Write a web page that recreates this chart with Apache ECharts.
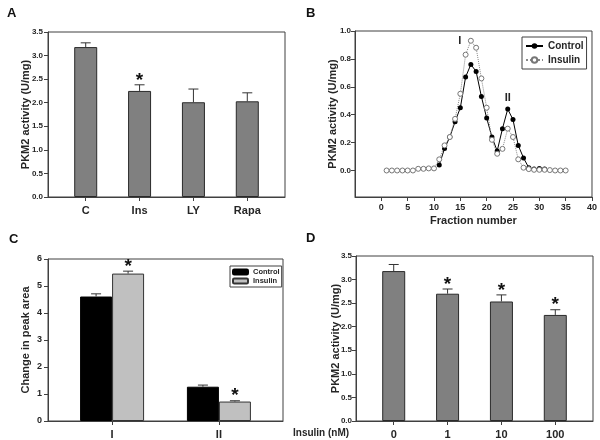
<!DOCTYPE html>
<html>
<head>
<meta charset="utf-8">
<script src="https://cdn.jsdelivr.net/npm/echarts@6/dist/echarts.min.js"></script>
<style>
  html, body { margin: 0; padding: 0; background: #fff; }
  #chart { width: 600px; height: 440px; }
</style>
</head>
<body>
<div id="chart"></div>
<script>
// Panel A
const aCats = ['C', 'Ins', 'LY', 'Rapa'];
const aMeans = [3.18, 2.25, 2.01, 2.03];
const aErrs = [0.09, 0.13, 0.28, 0.18];
const aStars = [false, true, false, false];

// Panel B
const bFractions = [1, 2, 3, 4, 5, 6, 7, 8, 9, 10, 11, 12, 13, 14, 15, 16, 17, 18, 19, 20,
  21, 22, 23, 24, 25, 26, 27, 28, 29, 30, 31, 32, 33, 34, 35];
const bInsulin = [0, 0, 0, 0, 0, 0, 0.012, 0.012, 0.015, 0.015, 0.08, 0.18, 0.24, 0.37, 0.55,
  0.83, 0.93, 0.88, 0.66, 0.45, 0.22, 0.12, 0.155, 0.30, 0.24, 0.08, 0.02, 0.01, 0.005, 0.005,
  0.005, 0.003, 0, 0, 0];
const bControlFractions = [11, 12, 13, 14, 15, 16, 17, 18, 19, 20, 21, 22, 23, 24, 25, 26, 27,
  28, 29, 30, 31];
const bControl = [0.04, 0.157, 0.24, 0.35, 0.45, 0.67, 0.76, 0.71, 0.53, 0.376, 0.24, 0.14, 0.30,
  0.44, 0.365, 0.18, 0.09, 0.02, 0.01, 0.015, 0.01];
const bXTicks = [0, 5, 10, 15, 20, 25, 30, 35, 40];
const bYTicks = [0, 0.2, 0.4, 0.6, 0.8, 1.0];

// Panel C
const cCats = ['I', 'II'];
const cControl = [4.61, 1.27];
const cControlErr = [0.1, 0.06];
const cInsulin = [5.46, 0.72];
const cInsulinErr = [0.09, 0.03];
const cInsulinStars = [true, true];

// Panel D
const dCats = ['0', '1', '10', '100'];
const dMeans = [3.18, 2.70, 2.535, 2.25];
const dErrs = [0.14, 0.10, 0.14, 0.11];
const dStars = [false, true, true, true];

const FONT = 'Liberation Sans, Arial, sans-serif';
const AXIS = '#404040';
const TEXT = '#262626';

function pairs(xs, ys) { return ys.map((y, i) => [xs[i], y]); }
function idx(arr) { return arr.map((_, i) => i); }

function errSeries(xAxisIndex, yAxisIndex, xs, means, errs, stars, offset) {
  return {
    type: 'custom',
    xAxisIndex, yAxisIndex,
    z: 5,
    data: means.map((m, i) => [xs[i], m, errs[i], stars[i] ? 1 : 0]),
    renderItem(params, api) {
      const x = api.value(0), m = api.value(1), e = api.value(2);
      const base = api.coord([x, m]);
      const top = api.coord([x, m + e]);
      const cx = base[0] + offset;
      const st = { stroke: '#333', lineWidth: 1 };
      const children = [
        { type: 'line', shape: { x1: cx, y1: base[1], x2: cx, y2: top[1] }, style: st },
        { type: 'line', shape: { x1: cx - 5, y1: top[1], x2: cx + 5, y2: top[1] }, style: st }
      ];
      if (api.value(3)) {
        children.push({
          type: 'text', x: cx, y: top[1] + 5,
          style: { text: '*', fill: '#111', font: 'bold 19px ' + FONT, align: 'center', verticalAlign: 'bottom' }
        });
      }
      return { type: 'group', children };
    }
  };
}

const grids = [
  { left: 48, top: 32, width: 237, height: 165 },
  { left: 355, top: 31, width: 238, height: 166 },
  { left: 48, top: 259, width: 235, height: 166 },
  { left: 356, top: 256, width: 237, height: 166 }
].map(g => Object.assign({ show: true, borderColor: AXIS, borderWidth: 1, backgroundColor: 'transparent' }, g));

const tickLabel = { color: TEXT, fontFamily: FONT, fontWeight: 'bold', fontSize: 8, margin: 5 };
const catLabel = { color: TEXT, fontFamily: FONT, fontWeight: 'bold', fontSize: 11, margin: 8 };
const axisLine = { show: true, onZero: false, lineStyle: { color: AXIS } };
const axisTick = { show: true, length: 4, lineStyle: { color: AXIS } };
const nameStyle = { color: TEXT, fontFamily: FONT, fontWeight: 'bold', fontSize: 11 };

function catValueAxis(gridIndex, cats, min, max) {
  const vals = idx(cats);
  return {
    type: 'value', gridIndex, min, max,
    splitLine: { show: false },
    axisLine, axisTick: Object.assign({ customValues: vals }, axisTick),
    axisLabel: Object.assign({ customValues: vals, formatter: v => cats[Math.round(v)] }, catLabel)
  };
}

function yName(text, gap) {
  return { name: text, nameLocation: 'middle', nameGap: gap, nameMoveOverlap: false, nameTextStyle: nameStyle };
}

const letter = t => ({ text: t, font: 'bold 13px ' + FONT, fill: '#111' });

const option = {
  animation: false,
  backgroundColor: '#fff',
  textStyle: { fontFamily: FONT },
  grid: grids,
  xAxis: [
    catValueAxis(0, aCats, -0.7, 3.7),
    {
      type: 'value', gridIndex: 1, min: -5, max: 40,
      splitLine: { show: false },
      axisLine, axisTick: Object.assign({ customValues: bXTicks }, axisTick),
      axisLabel: Object.assign({ customValues: bXTicks }, tickLabel, { fontSize: 9, margin: 6 }),
      name: 'Fraction number', nameLocation: 'middle', nameGap: 18, nameMoveOverlap: false,
      nameTextStyle: nameStyle
    },
    {
      type: 'value', gridIndex: 2, min: 0.4, max: 2.6,
      splitLine: { show: false },
      axisLine, axisTick: Object.assign({ customValues: [1, 2] }, axisTick),
      axisLabel: Object.assign({ customValues: [1, 2], formatter: v => cCats[Math.round(v) - 1] }, catLabel)
    },
    catValueAxis(3, dCats, -0.7, 3.7)
  ],
  yAxis: [
    Object.assign({
      type: 'value', gridIndex: 0, min: 0, max: 3.5, interval: 0.5,
      splitLine: { show: false }, axisLine, axisTick,
      axisLabel: Object.assign({}, tickLabel, { formatter: v => v.toFixed(1) })
    }, yName('PKM2 activity (U/mg)', 17)),
    Object.assign({
      type: 'value', gridIndex: 1, min: -0.19, max: 1.0,
      splitLine: { show: false }, axisLine,
      axisTick: Object.assign({ customValues: bYTicks }, axisTick),
      axisLabel: Object.assign({}, tickLabel, { customValues: bYTicks, margin: 4, formatter: v => v.toFixed(1) })
    }, yName('PKM2 activity (U/mg)', 17)),
    Object.assign({
      type: 'value', gridIndex: 2, min: 0, max: 6, interval: 1,
      splitLine: { show: false }, axisLine, axisTick,
      axisLabel: Object.assign({}, tickLabel, { fontSize: 9, margin: 6 })
    }, yName('Change in peak area', 17)),
    Object.assign({
      type: 'value', gridIndex: 3, min: 0, max: 3.5, interval: 0.5,
      splitLine: { show: false }, axisLine, axisTick,
      axisLabel: Object.assign({}, tickLabel, { margin: 4, formatter: v => v.toFixed(1) })
    }, yName('PKM2 activity (U/mg)', 15))
  ],
  legend: [
    {
      data: ['Control', 'Insulin'],
      orient: 'vertical', left: 522, top: 37,
      padding: [4, 3, 4, 3], itemGap: 4, itemWidth: 17, itemHeight: 7,
      borderColor: AXIS, borderWidth: 1,
      textStyle: { color: TEXT, fontFamily: FONT, fontWeight: 'bold', fontSize: 10 }
    },
    {
      data: ['Control (peak)', 'Insulin (peak)'],
      formatter: n => n.replace(' (peak)', ''),
      orient: 'vertical', left: 230, top: 266,
      padding: [2, 2, 2, 2], itemGap: 1, itemWidth: 15, itemHeight: 5,
      borderColor: AXIS, borderWidth: 1,
      textStyle: { color: TEXT, fontFamily: FONT, fontWeight: 'bold', fontSize: 7.5 }
    }
  ],
  graphic: [
    { type: 'text', left: 7, top: 7, style: letter('A') },
    { type: 'text', left: 306, top: 7, style: letter('B') },
    { type: 'text', left: 9, top: 233, style: letter('C') },
    { type: 'text', left: 306, top: 232, style: letter('D') },
    { type: 'text', left: 293, top: 428, style: { text: 'Insulin (nM)', font: 'bold 10px ' + FONT, fill: TEXT } }
  ],
  series: [
    {
      type: 'bar', xAxisIndex: 0, yAxisIndex: 0, barWidth: 23,
      data: pairs(idx(aCats), aMeans),
      itemStyle: { color: '#808080', borderColor: '#2a2a2a', borderWidth: 1 }
    },
    errSeries(0, 0, idx(aCats), aMeans, aErrs, aStars, 0),
    {
      name: 'Control', type: 'line', xAxisIndex: 1, yAxisIndex: 1,
      data: pairs(bControlFractions, bControl),
      symbol: 'circle', symbolSize: 5,
      itemStyle: { color: '#000' }, lineStyle: { color: '#000', width: 1 },
      markPoint: {
        symbol: 'circle', symbolSize: 0,
        label: { show: true, formatter: 'II', color: TEXT, fontFamily: FONT, fontWeight: 'bold', fontSize: 11, offset: [0, -11] },
        data: [{ coord: [24, 0.44] }]
      }
    },
    {
      name: 'Insulin', type: 'line', xAxisIndex: 1, yAxisIndex: 1,
      data: pairs(bFractions, bInsulin),
      symbol: 'circle', symbolSize: 5,
      itemStyle: { color: '#fff', borderColor: '#777', borderWidth: 1 },
      lineStyle: { color: '#888', width: 1, type: 'dotted' },
      markPoint: {
        symbol: 'circle', symbolSize: 0,
        label: { show: true, formatter: 'I', color: TEXT, fontFamily: FONT, fontWeight: 'bold', fontSize: 11, offset: [-11, 0] },
        data: [{ coord: [17, 0.93] }]
      }
    },
    {
      name: 'Control (peak)', type: 'bar', xAxisIndex: 2, yAxisIndex: 2,
      barWidth: 32, barGap: '0%',
      data: pairs([1, 2], cControl),
      itemStyle: { color: '#000', borderColor: '#000', borderWidth: 1 }
    },
    {
      name: 'Insulin (peak)', type: 'bar', xAxisIndex: 2, yAxisIndex: 2,
      barWidth: 32, barGap: '0%',
      data: pairs([1, 2], cInsulin),
      itemStyle: { color: '#c0c0c0', borderColor: '#333', borderWidth: 1 }
    },
    errSeries(2, 2, [1, 2], cControl, cControlErr, [false, false], -16),
    errSeries(2, 2, [1, 2], cInsulin, cInsulinErr, cInsulinStars, 16),
    {
      type: 'bar', xAxisIndex: 3, yAxisIndex: 3, barWidth: 23,
      data: pairs(idx(dCats), dMeans),
      itemStyle: { color: '#808080', borderColor: '#2a2a2a', borderWidth: 1 }
    },
    errSeries(3, 3, idx(dCats), dMeans, dErrs, dStars, 0)
  ]
};

const chart = echarts.init(document.getElementById('chart'));
chart.setOption(option);
</script>
</body>
</html>
